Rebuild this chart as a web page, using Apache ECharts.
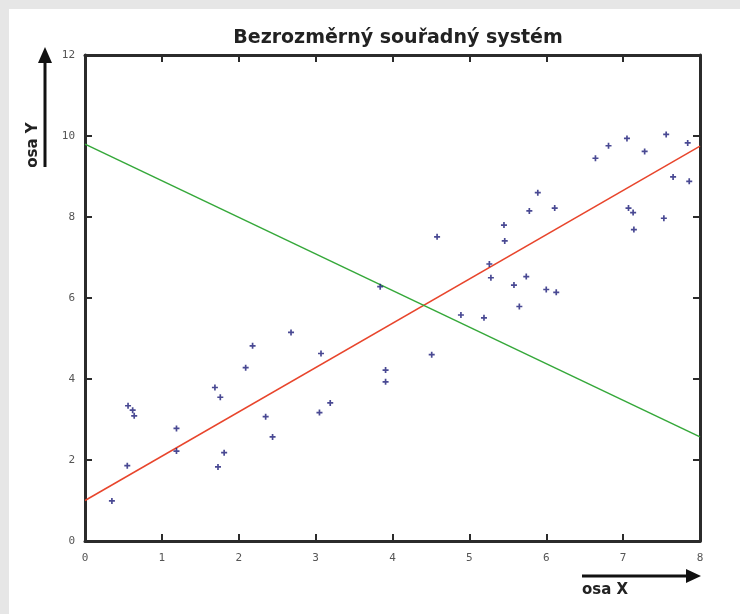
<!DOCTYPE html>
<html>
<head>
<meta charset="utf-8">
<script src="https://cdn.jsdelivr.net/npm/echarts@6/dist/echarts.min.js"></script>
<style>
  html, body { margin: 0; padding: 0; background: #e6e6e6; }
  #wrap { position: relative; width: 740px; height: 614px; overflow: hidden; }
  #chart { position: absolute; left: 9px; top: 9px; width: 731px; height: 605px; background: #fff; }
</style>
</head>
<body>
<div id="wrap"><div id="chart"></div></div>
<script>
var myChart = echarts.init(document.getElementById('chart'));

// body mereni [x, y]
var points = [
	[0.35, 0.99], [0.55, 1.86], [0.56, 3.34], [0.62, 3.23], [0.64, 3.09],
	[1.19, 2.78], [1.19, 2.22], [1.69, 3.79], [1.76, 3.55], [1.73, 1.83],
	[1.81, 2.18], [2.09, 4.28], [2.18, 4.82], [2.35, 3.07], [2.44, 2.57],
	[2.68, 5.15], [3.07, 4.63], [3.05, 3.17], [3.19, 3.41], [3.91, 4.22],
	[3.91, 3.93], [3.84, 6.28], [4.51, 4.60], [4.58, 7.51], [4.89, 5.58],
	[5.19, 5.51], [5.26, 6.84], [5.28, 6.50], [5.45, 7.80], [5.46, 7.41],
	[5.58, 6.32], [5.65, 5.79], [5.74, 6.53], [5.78, 8.15], [5.89, 8.60],
	[6.00, 6.21], [6.11, 8.22], [6.13, 6.14], [6.64, 9.45], [6.81, 9.76],
	[7.05, 9.94], [7.07, 8.22], [7.13, 8.11], [7.14, 7.69], [7.28, 9.62],
	[7.53, 7.97], [7.56, 10.04], [7.65, 8.99], [7.84, 9.83], [7.86, 8.88]
];
var redLine = [[0, 1.0], [8, 9.75]];
var greenLine = [[0, 9.8], [8, 2.57]];

var tickFont = {
	fontFamily: 'DejaVu Sans Mono',
	fontSize: 11,
	color: '#555'
};
function axLine() {
	return { show: true, onZero: false, lineStyle: { color: '#2b2b2b', width: 3 } };
}
function axTick() {
	return { show: true, inside: true, length: 7, lineStyle: { color: '#2b2b2b', width: 2 } };
}

var option = {
	animation: false,
	backgroundColor: '#fff',
	title: {
		text: 'Bezrozměrný souřadný systém',
		left: 384,
		textAlign: 'center',
		top: 15,
		textStyle: {
			fontFamily: 'DejaVu Sans',
			fontWeight: 'bold',
			fontSize: 19,
			color: '#222'
		}
	},
	grid: { left: 76, top: 46, right: 40, bottom: 73 },
	xAxis: [{
		type: 'value', min: 0, max: 8, interval: 1,
		axisLine: axLine(), axisTick: axTick(),
		splitLine: { show: false },
		axisLabel: Object.assign({ margin: 12 }, tickFont)
	}, {
		type: 'value', min: 0, max: 8, interval: 1, position: 'top',
		axisLine: axLine(), axisTick: axTick(),
		splitLine: { show: false }, axisLabel: { show: false }
	}],
	yAxis: [{
		type: 'value', min: 0, max: 12, interval: 2,
		axisLine: axLine(), axisTick: axTick(),
		splitLine: { show: false },
		axisLabel: Object.assign({ margin: 10 }, tickFont)
	}, {
		type: 'value', min: 0, max: 12, interval: 2, position: 'right',
		axisLine: axLine(), axisTick: axTick(),
		splitLine: { show: false }, axisLabel: { show: false }
	}],
	graphic: [
		// sipka osy Y
		{ type: 'line', shape: { x1: 36, y1: 52, x2: 36, y2: 158 }, style: { stroke: '#111', lineWidth: 3 } },
		{ type: 'polygon', shape: { points: [[36, 38], [29, 54], [43, 54]] }, style: { fill: '#111' } },
		{ type: 'text', x: 24, y: 136, rotation: Math.PI / 2,
			style: { text: 'osa Y', font: 'bold 15px "DejaVu Sans"', fill: '#222', align: 'center', verticalAlign: 'middle' } },
		// sipka osy X
		{ type: 'line', shape: { x1: 573, y1: 567, x2: 680, y2: 567 }, style: { stroke: '#111', lineWidth: 3 } },
		{ type: 'polygon', shape: { points: [[692, 567], [677, 560], [677, 574]] }, style: { fill: '#111' } },
		{ type: 'text', x: 573, y: 581,
			style: { text: 'osa X', font: 'bold 15px "DejaVu Sans"', fill: '#222', align: 'left', verticalAlign: 'middle' } }
	],
	series: [
		{
			name: 'body',
			type: 'scatter',
			symbol: 'path://M1.8,0L3.2,0L3.2,1.8L5,1.8L5,3.2L3.2,3.2L3.2,5L1.8,5L1.8,3.2L0,3.2L0,1.8L1.8,1.8Z',
			symbolSize: 6,
			itemStyle: { color: '#1c1c78' },
			data: points,
			z: 3
		},
		{
			name: 'regrese',
			type: 'line',
			symbol: 'none',
			lineStyle: { color: '#e8452c', width: 1.5 },
			data: redLine,
			z: 2
		},
		{
			name: 'opacna',
			type: 'line',
			symbol: 'none',
			lineStyle: { color: '#35a83a', width: 1.5 },
			data: greenLine,
			z: 2
		}
	]
};

myChart.setOption(option);
</script>
</body>
</html>
